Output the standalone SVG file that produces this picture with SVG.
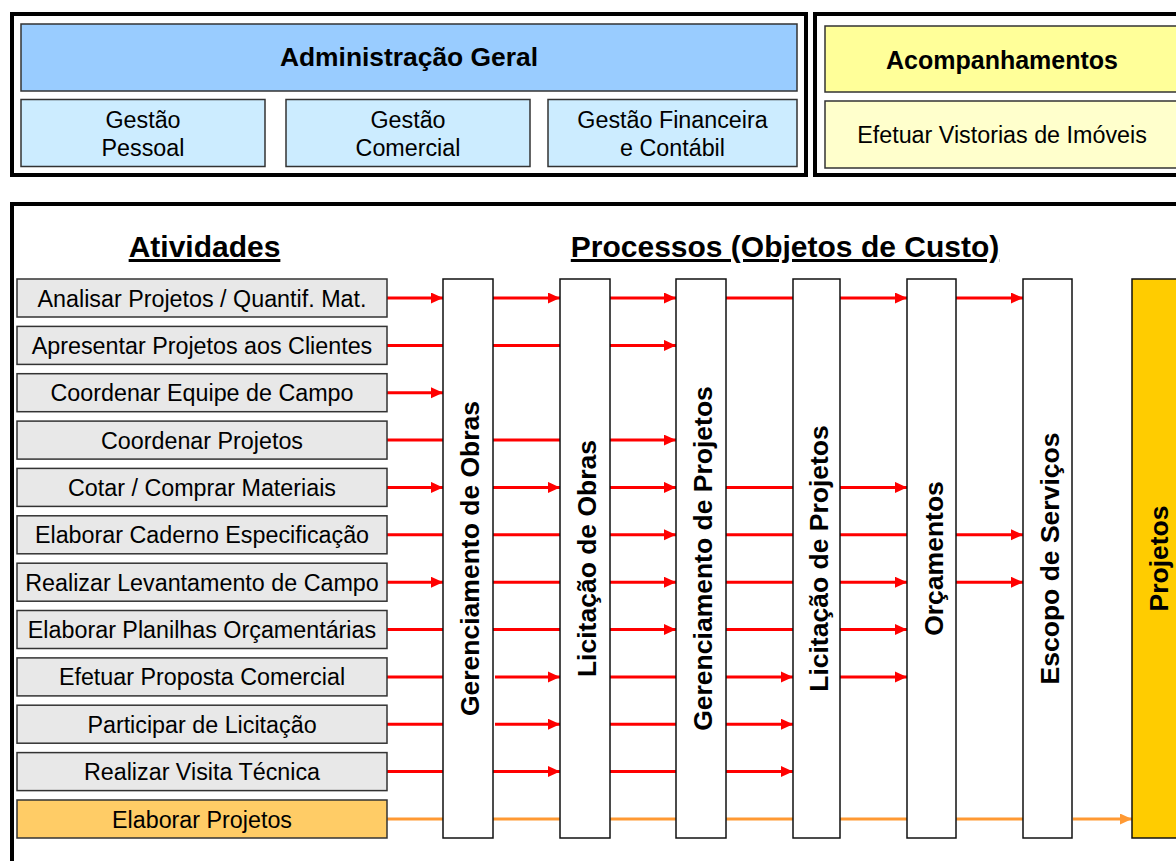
<svg xmlns="http://www.w3.org/2000/svg" width="1176" height="861" viewBox="0 0 1176 861">
  <style>
    .frame { fill: #fff; stroke: #000; stroke-width: 4; }
    .box { stroke: #333; stroke-width: 1.5; }
    .act { fill: #E8E8E8; stroke: #333; stroke-width: 1.5; }
    .col { fill: #fff; stroke: #111; stroke-width: 1.5; }
    .t { font-family: "Liberation Sans", Arial, sans-serif; fill: #000; text-anchor: middle; }
    .reg { font-size: 23.3px; }
    .head { font-size: 26.4px; font-weight: bold; }
    .title { font-size: 30px; font-weight: bold; text-decoration: underline; }
    .vt { font-size: 26.5px; font-weight: bold; }
    .r { stroke: #FF0000; stroke-width: 3; fill: none; }
    .ra { stroke: #FF0000; stroke-width: 3; fill: none; marker-end: url(#ah); }
    .o { stroke: #FF9933; stroke-width: 3; fill: none; }
    .oa { stroke: #FF9933; stroke-width: 3; fill: none; marker-end: url(#ahO); }
  </style>
  <defs>
    <marker id="ah" markerUnits="userSpaceOnUse" markerWidth="13" markerHeight="12" refX="12" refY="5.5" orient="auto">
      <path d="M0,0 L12,5.5 L0,11 z" fill="#FF0000"/>
    </marker>
    <marker id="ahO" markerUnits="userSpaceOnUse" markerWidth="13" markerHeight="12" refX="12" refY="5.5" orient="auto">
      <path d="M0,0 L12,5.5 L0,11 z" fill="#FF9933"/>
    </marker>
  </defs>

  <rect width="1176" height="861" fill="#fff"/>

  <!-- Administração Geral -->
  <g id="admin">
    <rect class="frame" x="12" y="14" width="794" height="161"/>
    <rect class="box" x="21" y="24" width="776" height="67" fill="#99CCFF"/>
    <text class="t head" x="409" y="66">Administração Geral</text>
  </g>
  <g id="gestao-pessoal">
    <rect class="box" x="21" y="99.5" width="244" height="67" fill="#CCECFF"/>
    <text class="t reg" x="143" y="128">Gestão</text>
    <text class="t reg" x="143" y="156">Pessoal</text>
  </g>
  <g id="gestao-comercial">
    <rect class="box" x="286" y="99.5" width="244" height="67" fill="#CCECFF"/>
    <text class="t reg" x="408" y="128">Gestão</text>
    <text class="t reg" x="408" y="156">Comercial</text>
  </g>
  <g id="gestao-financeira">
    <rect class="box" x="548" y="99.5" width="249" height="67" fill="#CCECFF"/>
    <text class="t reg" x="672.5" y="128">Gestão Financeira</text>
    <text class="t reg" x="672.5" y="156">e Contábil</text>
  </g>

  <!-- Acompanhamentos -->
  <g id="acompanhamentos">
    <rect class="frame" x="815" y="14" width="400" height="161"/>
    <rect class="box" x="825" y="26" width="400" height="66" fill="#FFFF99"/>
    <text class="t head" x="1002" y="69" style="font-size:25px">Acompanhamentos</text>
  </g>
  <g id="vistorias">
    <rect class="box" x="825" y="101" width="400" height="67" fill="#FFFFCC"/>
    <text class="t reg" x="1002" y="143">Efetuar Vistorias de Imóveis</text>
  </g>

  <!-- Lower panel -->
  <g id="panel">
    <rect class="frame" x="12" y="204" width="1200" height="700"/>
    <text class="t title" x="204.5" y="257">Atividades</text>
    <text class="t title" x="785" y="257">Processos (Objetos de Custo)</text>
  </g>

  <!-- Connectors -->
  <g id="connectors">
    <!-- Analisar Projetos / Quantif. Mat. (y 298) -->
    <line class="ra" x1="387" y1="298" x2="443" y2="298"/>
    <line class="ra" x1="493" y1="298" x2="560" y2="298"/>
    <line class="ra" x1="610" y1="298" x2="676" y2="298"/>
    <line class="r" x1="726" y1="298" x2="793" y2="298"/>
    <line class="ra" x1="840" y1="298" x2="907" y2="298"/>
    <line class="ra" x1="956" y1="298" x2="1023" y2="298"/>
    <!-- Apresentar Projetos aos Clientes (y 345.4) -->
    <line class="r" x1="387" y1="345.4" x2="443" y2="345.4"/>
    <line class="r" x1="493" y1="345.4" x2="560" y2="345.4"/>
    <line class="ra" x1="610" y1="345.4" x2="676" y2="345.4"/>
    <!-- Coordenar Equipe de Campo (y 392.7) -->
    <line class="ra" x1="387" y1="392.7" x2="443" y2="392.7"/>
    <!-- Coordenar Projetos (y 440.1) -->
    <line class="r" x1="387" y1="440.1" x2="443" y2="440.1"/>
    <line class="r" x1="493" y1="440.1" x2="560" y2="440.1"/>
    <line class="ra" x1="610" y1="440.1" x2="676" y2="440.1"/>
    <!-- Cotar / Comprar Materiais (y 487.4) -->
    <line class="ra" x1="387" y1="487.4" x2="443" y2="487.4"/>
    <line class="ra" x1="493" y1="487.4" x2="560" y2="487.4"/>
    <line class="ra" x1="610" y1="487.4" x2="676" y2="487.4"/>
    <line class="r" x1="726" y1="487.4" x2="793" y2="487.4"/>
    <line class="ra" x1="840" y1="487.4" x2="907" y2="487.4"/>
    <!-- Elaborar Caderno Especificação (y 534.8) -->
    <line class="r" x1="387" y1="534.8" x2="443" y2="534.8"/>
    <line class="r" x1="493" y1="534.8" x2="560" y2="534.8"/>
    <line class="ra" x1="610" y1="534.8" x2="676" y2="534.8"/>
    <line class="r" x1="726" y1="534.8" x2="793" y2="534.8"/>
    <line class="r" x1="840" y1="534.8" x2="907" y2="534.8"/>
    <line class="ra" x1="956" y1="534.8" x2="1023" y2="534.8"/>
    <!-- Realizar Levantamento de Campo (y 582.2) -->
    <line class="ra" x1="387" y1="582.2" x2="443" y2="582.2"/>
    <line class="r" x1="493" y1="582.2" x2="560" y2="582.2"/>
    <line class="ra" x1="610" y1="582.2" x2="676" y2="582.2"/>
    <line class="r" x1="726" y1="582.2" x2="793" y2="582.2"/>
    <line class="ra" x1="840" y1="582.2" x2="907" y2="582.2"/>
    <line class="ra" x1="956" y1="582.2" x2="1023" y2="582.2"/>
    <!-- Elaborar Planilhas Orçamentárias (y 629.5) -->
    <line class="r" x1="387" y1="629.5" x2="443" y2="629.5"/>
    <line class="r" x1="493" y1="629.5" x2="560" y2="629.5"/>
    <line class="ra" x1="610" y1="629.5" x2="676" y2="629.5"/>
    <line class="r" x1="726" y1="629.5" x2="793" y2="629.5"/>
    <line class="ra" x1="840" y1="629.5" x2="907" y2="629.5"/>
    <!-- Efetuar Proposta Comercial (y 676.9) -->
    <line class="r" x1="387" y1="676.9" x2="443" y2="676.9"/>
    <line class="ra" x1="495" y1="676.9" x2="560" y2="676.9"/>
    <line class="r" x1="610" y1="676.9" x2="676" y2="676.9"/>
    <line class="ra" x1="726" y1="676.9" x2="793" y2="676.9"/>
    <line class="ra" x1="840" y1="676.9" x2="907" y2="676.9"/>
    <!-- Participar de Licitação (y 724.2) -->
    <line class="r" x1="387" y1="724.2" x2="443" y2="724.2"/>
    <line class="ra" x1="495" y1="724.2" x2="560" y2="724.2"/>
    <line class="r" x1="610" y1="724.2" x2="676" y2="724.2"/>
    <line class="ra" x1="726" y1="724.2" x2="793" y2="724.2"/>
    <!-- Realizar Visita Técnica (y 771.6) -->
    <line class="r" x1="387" y1="771.6" x2="443" y2="771.6"/>
    <line class="ra" x1="493" y1="771.6" x2="560" y2="771.6"/>
    <line class="r" x1="610" y1="771.6" x2="676" y2="771.6"/>
    <line class="ra" x1="726" y1="771.6" x2="793" y2="771.6"/>
    <!-- Elaborar Projetos (y 819) -->
    <line class="o" x1="387" y1="819" x2="443" y2="819"/>
    <line class="o" x1="493" y1="819" x2="560" y2="819"/>
    <line class="o" x1="610" y1="819" x2="676" y2="819"/>
    <line class="o" x1="726" y1="819" x2="793" y2="819"/>
    <line class="o" x1="840" y1="819" x2="907" y2="819"/>
    <line class="o" x1="956" y1="819" x2="1023" y2="819"/>
    <line class="oa" x1="1073" y1="819" x2="1132" y2="819"/>
  </g>

  <!-- Activities -->
  <g id="act-analisar"><rect class="act" x="17" y="279" width="370" height="38"/><text class="t reg" x="202" y="306.5">Analisar Projetos / Quantif. Mat.</text></g>
  <g id="act-apresentar"><rect class="act" x="17" y="326.4" width="370" height="38"/><text class="t reg" x="202" y="353.9">Apresentar Projetos aos Clientes</text></g>
  <g id="act-equipe"><rect class="act" x="17" y="373.7" width="370" height="38"/><text class="t reg" x="202" y="401.2">Coordenar Equipe de Campo</text></g>
  <g id="act-coord-projetos"><rect class="act" x="17" y="421.1" width="370" height="38"/><text class="t reg" x="202" y="448.6">Coordenar Projetos</text></g>
  <g id="act-cotar"><rect class="act" x="17" y="468.4" width="370" height="38"/><text class="t reg" x="202" y="495.9">Cotar / Comprar Materiais</text></g>
  <g id="act-caderno"><rect class="act" x="17" y="515.8" width="370" height="38"/><text class="t reg" x="202" y="543.3">Elaborar Caderno Especificação</text></g>
  <g id="act-levantamento"><rect class="act" x="17" y="563.2" width="370" height="38"/><text class="t reg" x="202" y="590.7">Realizar Levantamento de Campo</text></g>
  <g id="act-planilhas"><rect class="act" x="17" y="610.5" width="370" height="38"/><text class="t reg" x="202" y="638">Elaborar Planilhas Orçamentárias</text></g>
  <g id="act-proposta"><rect class="act" x="17" y="657.9" width="370" height="38"/><text class="t reg" x="202" y="685.4">Efetuar Proposta Comercial</text></g>
  <g id="act-licitacao"><rect class="act" x="17" y="705.2" width="370" height="38"/><text class="t reg" x="202" y="732.7">Participar de Licitação</text></g>
  <g id="act-visita"><rect class="act" x="17" y="752.6" width="370" height="38"/><text class="t reg" x="202" y="780.1">Realizar Visita Técnica</text></g>
  <g id="act-elaborar-projetos"><rect class="act" x="17" y="800" width="370" height="38" style="fill:#FFCC66"/><text class="t reg" x="202" y="827.5">Elaborar Projetos</text></g>

  <!-- Cost objects -->
  <g id="proc-ger-obras"><rect class="col" x="443" y="279" width="50" height="559"/><text class="t vt" transform="translate(468 558.5) rotate(-90)" x="0" y="11">Gerenciamento de Obras</text></g>
  <g id="proc-lic-obras"><rect class="col" x="560" y="279" width="50" height="559"/><text class="t vt" transform="translate(585 558.5) rotate(-90)" x="0" y="11">Licitação de Obras</text></g>
  <g id="proc-ger-projetos"><rect class="col" x="676" y="279" width="50" height="559"/><text class="t vt" transform="translate(701 558.5) rotate(-90)" x="0" y="11">Gerenciamento de Projetos</text></g>
  <g id="proc-lic-projetos"><rect class="col" x="793" y="279" width="47" height="559"/><text class="t vt" transform="translate(816.5 558.5) rotate(-90)" x="0" y="11">Licitação de Projetos</text></g>
  <g id="proc-orcamentos"><rect class="col" x="907" y="279" width="49" height="559"/><text class="t vt" transform="translate(931.5 558.5) rotate(-90)" x="0" y="11">Orçamentos</text></g>
  <g id="proc-escopo"><rect class="col" x="1023" y="279" width="49" height="559"/><text class="t vt" transform="translate(1047.5 558.5) rotate(-90)" x="0" y="11">Escopo de Serviços</text></g>
  <g id="proc-projetos"><rect class="col" x="1132" y="279" width="50" height="559" style="fill:#FFCC00"/><text class="t vt" transform="translate(1157 558.5) rotate(-90)" x="0" y="11">Projetos</text></g>
</svg>
